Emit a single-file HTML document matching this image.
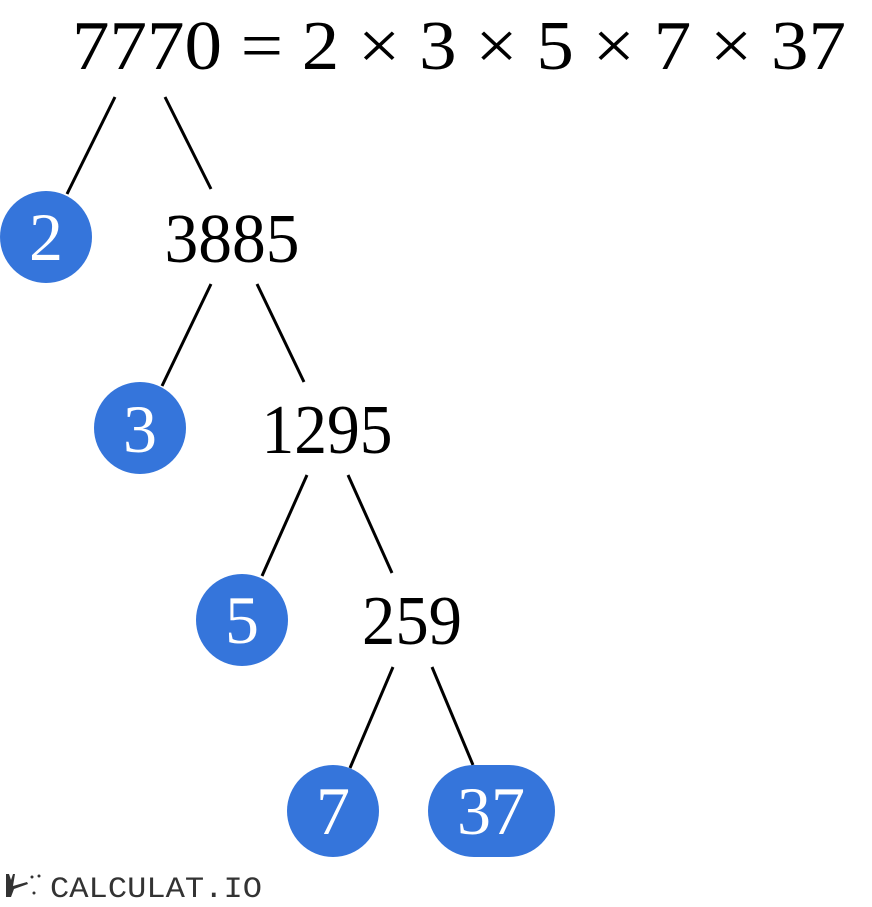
<!DOCTYPE html>
<html><head><meta charset="utf-8"><style>
html,body{margin:0;padding:0;background:#fff;width:872px;height:907px;overflow:hidden}
svg{display:block}
.s{font-family:"Liberation Serif",serif}
.m{font-family:"Liberation Mono",monospace}
</style></head><body>
<svg width="872" height="907" viewBox="0 0 872 907" xmlns="http://www.w3.org/2000/svg">
<g stroke="#000" stroke-width="3" stroke-linecap="butt">
<line x1="115" y1="97" x2="67" y2="194"/>
<line x1="165" y1="97" x2="211" y2="189"/>
<line x1="211" y1="284" x2="162" y2="386"/>
<line x1="257" y1="284" x2="304" y2="382"/>
<line x1="307" y1="475" x2="262" y2="576"/>
<line x1="348" y1="475" x2="392" y2="573"/>
<line x1="393" y1="667" x2="350" y2="768"/>
<line x1="432" y1="667" x2="473" y2="765"/>
</g>
<g fill="#3575DB">
<circle cx="46" cy="237" r="46"/>
<circle cx="140" cy="428" r="46"/>
<circle cx="242" cy="620" r="46"/>
<circle cx="333" cy="811" r="46"/>
<rect x="428" y="765" width="127" height="92" rx="46" ry="46"/>
</g>
<g class="s" font-size="70" fill="#000" text-anchor="middle">
<text x="459" y="69" textLength="774" lengthAdjust="spacingAndGlyphs">7770 = 2 × 3 × 5 × 7 × 37</text>
<text x="232" y="262" textLength="135" lengthAdjust="spacingAndGlyphs">3885</text>
<text x="327" y="453" textLength="131" lengthAdjust="spacingAndGlyphs">1295</text>
<text x="412" y="644" textLength="100" lengthAdjust="spacingAndGlyphs">259</text>
</g>
<g class="s" font-size="68" fill="#fff" text-anchor="middle">
<text x="46" y="260">2</text>
<text x="140" y="452">3</text>
<text x="242" y="643">5</text>
<text x="333" y="834">7</text>
<text x="491" y="834">37</text>
</g>
<g fill="#333">
<path d="M6 874 l3 0 l2 6 l2 -6 l2 0 l-2 12 l14 -4 l1 2 l-14 5 l-3 8 l-5 0 z"/>
<circle cx="32" cy="877" r="1.5"/><circle cx="39" cy="876" r="1.5"/><circle cx="34" cy="893" r="1.5"/>
<text class="m" x="50" y="897" font-size="30" textLength="212" lengthAdjust="spacingAndGlyphs">CALCULAT.IO</text>
</g>
</svg>
</body></html>
